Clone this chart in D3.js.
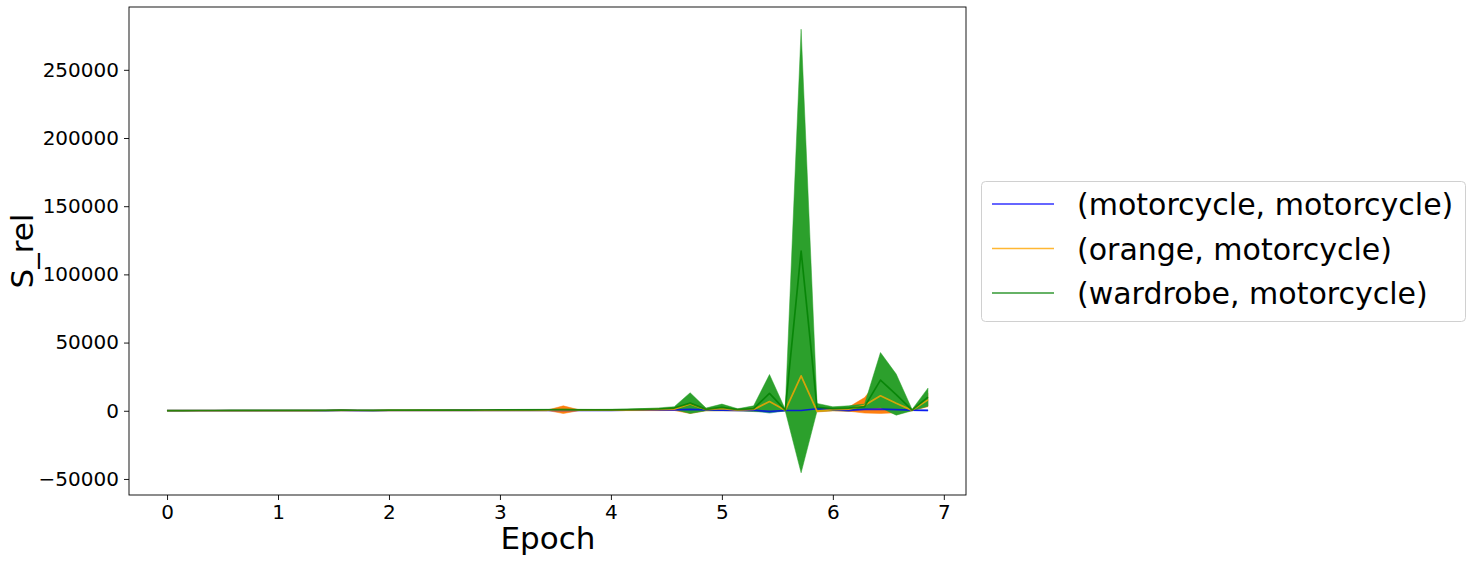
<!DOCTYPE html>
<html>
<head>
<meta charset="utf-8">
<script src="https://cdn.jsdelivr.net/npm/d3@7"></script>
<style>
  html, body { margin: 0; padding: 0; background: #fff; }
  svg { display: block; font-family: "DejaVu Sans", sans-serif; }
</style>
</head>
<body>
<svg id="chart" width="1473" height="562"></svg>
<script>
// ---- data ----
const epochs = [0.000, 0.143, 0.286, 0.429, 0.571, 0.714, 0.857, 1.000, 1.143, 1.286, 1.429, 1.571, 1.714, 1.857,
  2.000, 2.143, 2.286, 2.429, 2.571, 2.714, 2.857, 3.000, 3.143, 3.286, 3.429, 3.571, 3.714, 3.857,
  4.000, 4.143, 4.286, 4.429, 4.571, 4.714, 4.857, 5.000, 5.143, 5.286, 5.429, 5.571, 5.714, 5.857,
  6.000, 6.143, 6.286, 6.429, 6.571, 6.714, 6.857];

const seriesNames = ["(motorcycle, motorcycle)", "(orange, motorcycle)", "(wardrobe, motorcycle)"];

const motoMean = [50, 60, 70, 80, 90, 100, 110, 120, 130, 140, 150, 250, 160, 170, 180, 190, 200, 210, 220, 230, 240, 250, 260, 270, 280,
  300, 300, 320, 350, 380, 400, 450, 600, 1000, 600, 400, 300, 400, -500, 200, 200, 1500, 800, 300, 1000, 1200, 800, 400, 300];
const motoStd = [30, 30, 40, 40, 50, 50, 60, 60, 60, 70, 70, 150, 80, 80, 90, 90, 100, 100, 100, 110, 110, 120, 120, 130, 130,
  150, 150, 160, 170, 180, 200, 250, 400, 1200, 400, 300, 250, 400, 1200, 300, 400, 800, 600, 800, 900, 1000, 700, 300, 300];

const orangeMean = [80, 90, 100, 110, 120, 130, 140, 150, 160, 170, 180, 350, 200, 210, 220, 230, 240, 250, 260, 270, 280, 300, 320, 340, 360,
  800, 400, 420, 450, 500, 600, 800, 1200, 5000, 800, 1500, 500, 1000, 6800, 300, 25600, -300, 800, 1200, 4000, 11000, 5500, 300, 8000];
const orangeStd = [50, 60, 60, 70, 70, 80, 80, 90, 90, 100, 100, 250, 120, 120, 130, 130, 140, 140, 150, 150, 160, 170, 180, 190, 200,
  2800, 300, 300, 350, 400, 500, 700, 1000, 7000, 800, 1500, 600, 1200, 6000, 400, 20000, 600, 900, 1500, 5700, 13000, 7000, 300, 5000];

const wardMean = [120, 150, 180, 200, 220, 250, 260, 280, 300, 320, 350, 420, 380, 360, 400, 420, 450, 480, 500, 520, 560, 600, 650, 700, 750,
  800, 700, 650, 700, 800, 1000, 1300, 2000, 5600, 1000, 2500, 800, 1500, 12800, 500, 117150, 2500, 1500, 2000, 3000, 22500, 11850, 500, 10000];
const wardStd = [80, 90, 100, 110, 120, 130, 140, 150, 160, 170, 180, 300, 200, 200, 220, 230, 240, 250, 260, 270, 280, 300, 320, 340, 360,
  400, 380, 380, 400, 450, 600, 800, 1000, 7600, 1000, 2400, 700, 2100, 13800, 600, 162650, 2900, 1400, 1600, 1900, 20200, 15050, 500, 6600];

const xTicks = [0, 1, 2, 3, 4, 5, 6, 7];
const yTicks = [-50000, 0, 50000, 100000, 150000, 200000, 250000];

const lineColors = ["#0000ff", "#ffa500", "#008000"];
const fillColors = ["#1f77b4", "#ff7f0e", "#2ca02c"];

// ---- layout ----
const svg = d3.select("#chart");
const L = 129, R = 966, T = 7, B = 495;

const xMin = d3.min(epochs), xMax = d3.max(epochs);
const xPad = (xMax - xMin) * 0.05;
const x = d3.scaleLinear().domain([xMin - xPad, xMax + xPad]).range([L, R]);

const allLo = [], allHi = [];
[[motoMean, motoStd], [orangeMean, orangeStd], [wardMean, wardStd]].forEach(([m, s]) => {
  m.forEach((v, i) => { allLo.push(v - s[i]); allHi.push(v + s[i]); });
});
const yLo = d3.min(allLo), yHi = d3.max(allHi);
const yPad = (yHi - yLo) * 0.05;
const y = d3.scaleLinear().domain([yLo - yPad, yHi + yPad]).range([B, T]);

const series = [
  { name: seriesNames[0], mean: motoMean, std: motoStd, line: lineColors[0], fill: fillColors[0] },
  { name: seriesNames[1], mean: orangeMean, std: orangeStd, line: lineColors[1], fill: fillColors[1] },
  { name: seriesNames[2], mean: wardMean, std: wardStd, line: lineColors[2], fill: fillColors[2] }
];

const plot = svg.append("g");

// fills
const area = d3.area()
  .x((d, i) => x(epochs[i]))
  .y0(d => y(d.lo))
  .y1(d => y(d.hi));
series.forEach(s => {
  const pts = s.mean.map((v, i) => ({ lo: v - s.std[i], hi: v + s.std[i] }));
  plot.append("path").datum(pts)
    .attr("d", area)
    .attr("fill", s.fill)
    .attr("stroke", s.fill)
    .attr("stroke-width", 0.5);
});

// lines
const line = d3.line().x((d, i) => x(epochs[i])).y(d => y(d));
series.forEach(s => {
  plot.append("path").datum(s.mean)
    .attr("d", line)
    .attr("fill", "none")
    .attr("stroke", s.line)
    .attr("stroke-opacity", 0.8)
    .attr("stroke-width", 1.7)
    .attr("stroke-linejoin", "round");
});

// axes
const fmt = d => (d < 0 ? "\u2212" + Math.abs(d) : String(d));
const xAxis = d3.axisBottom(x).tickValues(xTicks).tickSize(5).tickPadding(5).tickFormat(d3.format("d"));
const yAxis = d3.axisLeft(y).tickValues(yTicks).tickSize(5).tickPadding(5).tickFormat(fmt);

const gx = svg.append("g").attr("transform", `translate(0,${B})`).call(xAxis);
const gy = svg.append("g").attr("transform", `translate(${L},0)`).call(yAxis);
[gx, gy].forEach(g => {
  g.select(".domain").remove();
  g.selectAll(".tick line").attr("stroke", "#000").attr("stroke-width", 0.9);
  g.selectAll(".tick text").attr("fill", "#000").style("font-size", "20px").style("font-family", "DejaVu Sans");
});

// frame
svg.append("rect").attr("x", L).attr("y", T).attr("width", R - L).attr("height", B - T)
  .attr("fill", "none").attr("stroke", "#000").attr("stroke-width", 0.9);

// axis labels
svg.append("text").attr("x", 548).attr("y", 549)
  .attr("text-anchor", "middle").style("font-size", "31px").text("Epoch");
svg.append("text").attr("transform", `translate(33,${(T + B) / 2}) rotate(-90)`)
  .attr("text-anchor", "middle").style("font-size", "31px").text("S_rel");

// legend
const lg = svg.append("g");
lg.append("rect").attr("x", 981.5).attr("y", 181.5).attr("width", 484).attr("height", 140)
  .attr("rx", 4).attr("fill", "#fff").attr("fill-opacity", 0.8).attr("stroke", "#d0d0d0").attr("stroke-width", 1);
series.forEach((s, i) => {
  const yy = 204 + i * 44.5;
  lg.append("line").attr("x1", 992).attr("x2", 1054).attr("y1", yy).attr("y2", yy)
    .attr("stroke", s.line).attr("stroke-opacity", 0.8).attr("stroke-width", 1.7);
  lg.append("text").attr("x", 1077).attr("y", yy + 11).style("font-size", "30px").text(s.name);
});
</script>
</body>
</html>
